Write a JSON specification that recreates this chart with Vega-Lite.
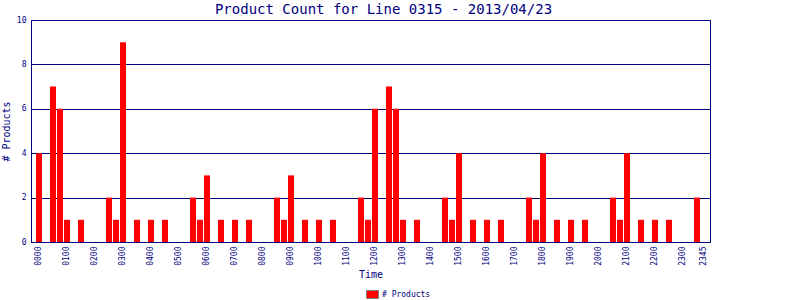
{
  "$schema": "https://vega.github.io/schema/vega-lite/v6.json",
  "width": 679,
  "height": 222,
  "autosize": {"type": "none"},
  "padding": {"left": 31, "top": 20, "right": 90, "bottom": 58},
  "background": "white",
  "title": {
    "text": "Product Count for Line 0315 - 2013/04/23",
    "font": "DejaVu Sans Mono",
    "fontSize": 14,
    "fontWeight": "normal",
    "color": "#000080",
    "anchor": "middle",
    "frame": "group",
    "dx": 13,
    "offset": -1
  },
  "data": {
    "values": [
      {"time": "0000", "count": 4}, {"time": "0015", "count": 0}, {"time": "0030", "count": 7}, {"time": "0045", "count": 6},
      {"time": "0100", "count": 1}, {"time": "0115", "count": 0}, {"time": "0130", "count": 1}, {"time": "0145", "count": 0},
      {"time": "0200", "count": 0}, {"time": "0215", "count": 0}, {"time": "0230", "count": 2}, {"time": "0245", "count": 1},
      {"time": "0300", "count": 9}, {"time": "0315", "count": 0}, {"time": "0330", "count": 1}, {"time": "0345", "count": 0},
      {"time": "0400", "count": 1}, {"time": "0415", "count": 0}, {"time": "0430", "count": 1}, {"time": "0445", "count": 0},
      {"time": "0500", "count": 0}, {"time": "0515", "count": 0}, {"time": "0530", "count": 2}, {"time": "0545", "count": 1},
      {"time": "0600", "count": 3}, {"time": "0615", "count": 0}, {"time": "0630", "count": 1}, {"time": "0645", "count": 0},
      {"time": "0700", "count": 1}, {"time": "0715", "count": 0}, {"time": "0730", "count": 1}, {"time": "0745", "count": 0},
      {"time": "0800", "count": 0}, {"time": "0815", "count": 0}, {"time": "0830", "count": 2}, {"time": "0845", "count": 1},
      {"time": "0900", "count": 3}, {"time": "0915", "count": 0}, {"time": "0930", "count": 1}, {"time": "0945", "count": 0},
      {"time": "1000", "count": 1}, {"time": "1015", "count": 0}, {"time": "1030", "count": 1}, {"time": "1045", "count": 0},
      {"time": "1100", "count": 0}, {"time": "1115", "count": 0}, {"time": "1130", "count": 2}, {"time": "1145", "count": 1},
      {"time": "1200", "count": 6}, {"time": "1215", "count": 0}, {"time": "1230", "count": 7}, {"time": "1245", "count": 6},
      {"time": "1300", "count": 1}, {"time": "1315", "count": 0}, {"time": "1330", "count": 1}, {"time": "1345", "count": 0},
      {"time": "1400", "count": 0}, {"time": "1415", "count": 0}, {"time": "1430", "count": 2}, {"time": "1445", "count": 1},
      {"time": "1500", "count": 4}, {"time": "1515", "count": 0}, {"time": "1530", "count": 1}, {"time": "1545", "count": 0},
      {"time": "1600", "count": 1}, {"time": "1615", "count": 0}, {"time": "1630", "count": 1}, {"time": "1645", "count": 0},
      {"time": "1700", "count": 0}, {"time": "1715", "count": 0}, {"time": "1730", "count": 2}, {"time": "1745", "count": 1},
      {"time": "1800", "count": 4}, {"time": "1815", "count": 0}, {"time": "1830", "count": 1}, {"time": "1845", "count": 0},
      {"time": "1900", "count": 1}, {"time": "1915", "count": 0}, {"time": "1930", "count": 1}, {"time": "1945", "count": 0},
      {"time": "2000", "count": 0}, {"time": "2015", "count": 0}, {"time": "2030", "count": 2}, {"time": "2045", "count": 1},
      {"time": "2100", "count": 4}, {"time": "2115", "count": 0}, {"time": "2130", "count": 1}, {"time": "2145", "count": 0},
      {"time": "2200", "count": 1}, {"time": "2215", "count": 0}, {"time": "2230", "count": 1}, {"time": "2245", "count": 0},
      {"time": "2300", "count": 0}, {"time": "2315", "count": 0}, {"time": "2330", "count": 2}, {"time": "2345", "count": 0}
    ]
  },
  "mark": {"type": "bar"},
  "encoding": {
    "x": {
      "field": "time",
      "type": "ordinal",
      "sort": null,
      "scale": {"paddingInner": 0.142857, "paddingOuter": 0.571429, "align": 0.625},
      "axis": {
        "title": "Time",
        "values": ["0000","0100","0200","0300","0400","0500","0600","0700","0800","0900","1000","1100","1200","1300","1400","1500","1600","1700","1800","1900","2000","2100","2200","2300","2345"],
        "labelAngle": -90,
        "labelAlign": "right",
        "labelBaseline": "middle",
        "labelFont": "DejaVu Sans Mono",
        "labelFontSize": 8,
        "labelColor": "#000080",
        "labelPadding": 4,
        "ticks": false,
        "domainColor": "#000080",
        "titleFont": "DejaVu Sans Mono",
        "titleFontSize": 10,
        "titleFontWeight": "normal",
        "titleColor": "#000080",
        "titlePadding": 4
      }
    },
    "y": {
      "field": "count",
      "type": "quantitative",
      "scale": {"domain": [0, 10], "nice": false},
      "axis": {
        "title": "# Products",
        "values": [0, 2, 4, 6, 8, 10],
        "labelFont": "DejaVu Sans Mono",
        "labelFontSize": 8,
        "labelColor": "#000080",
        "labelPadding": 5,
        "ticks": false,
        "grid": true,
        "gridColor": "#000080",
        "gridOpacity": 1,
        "domainColor": "#000080",
        "titleFont": "DejaVu Sans Mono",
        "titleFontSize": 10,
        "titleFontWeight": "normal",
        "titleColor": "#000080",
        "titlePadding": 5
      }
    },
    "color": {
      "datum": "# Products",
      "type": "nominal",
      "scale": {"range": ["#FF0000"]},
      "legend": {
        "title": null,
        "orient": "none",
        "legendX": 335,
        "legendY": 268,
        "padding": 0,
        "symbolType": "M-1,-0.667H1V0.667H-1Z",
        "symbolSize": 144,
        "symbolStrokeColor": "#808080",
        "symbolStrokeWidth": 1,
        "symbolOpacity": 1,
        "labelFont": "DejaVu Sans Mono",
        "labelFontSize": 8,
        "labelColor": "#000080",
        "labelOffset": 3
      }
    }
  },
  "config": {
    "view": {"stroke": "#000080", "strokeWidth": 1},
    "bar": {"fill": "#FF0000"}
  }
}
